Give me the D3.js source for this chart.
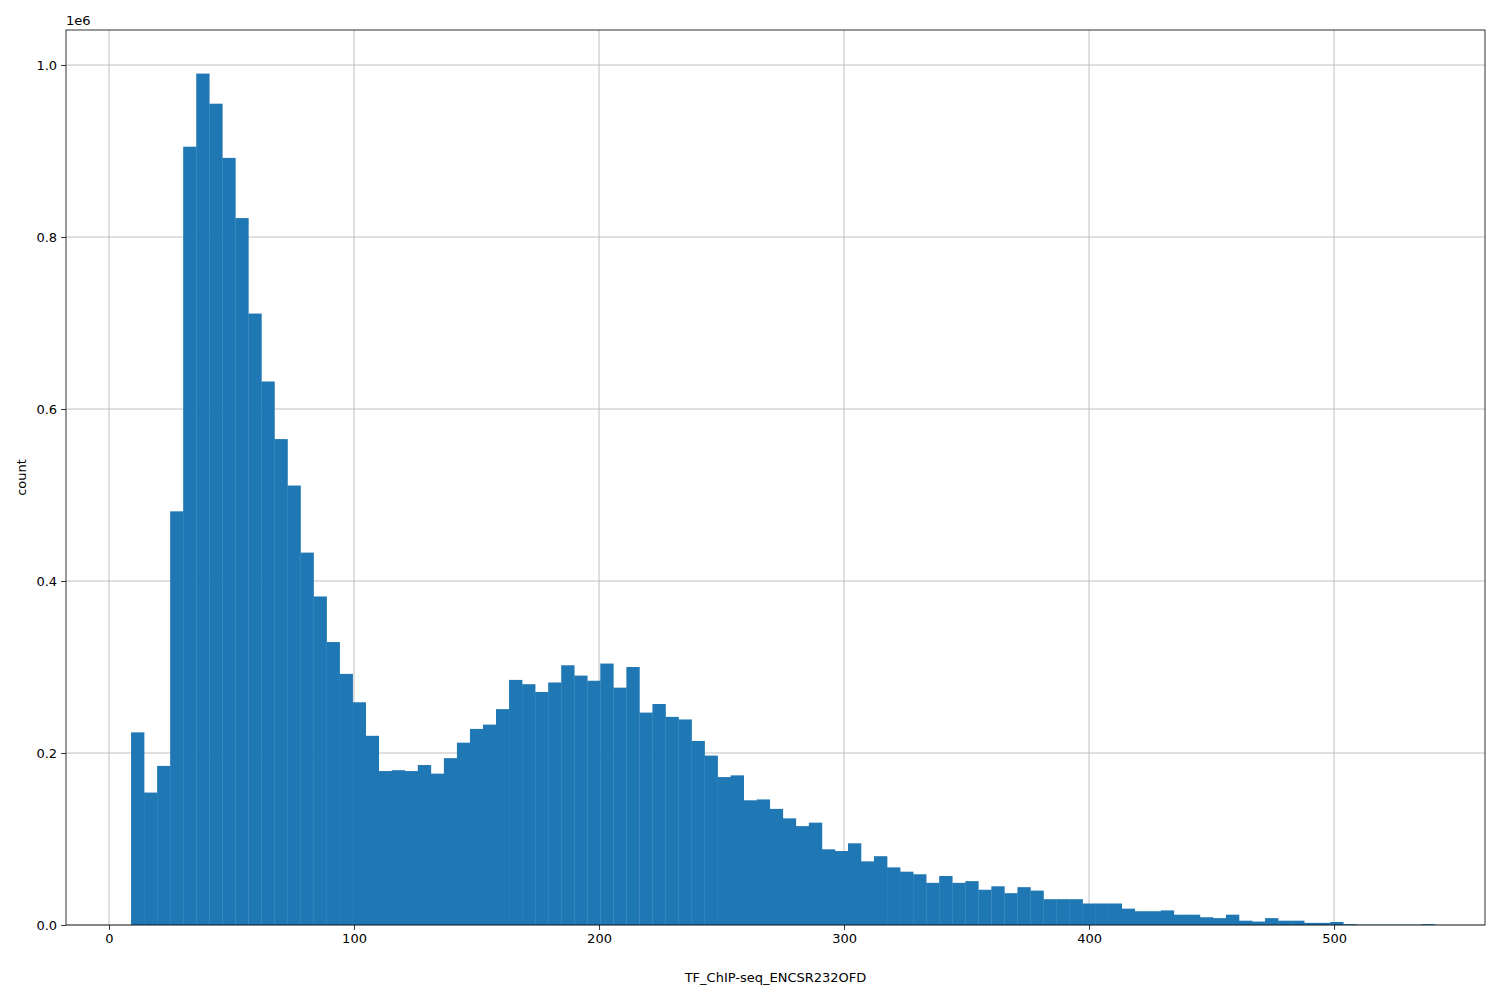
<!DOCTYPE html>
<html>
<head>
<meta charset="utf-8">
<script src="https://cdn.jsdelivr.net/npm/d3@7"></script>
<style>
  body { margin: 0; background: #fff; }
  text { font-family: "DejaVu Sans", sans-serif; }
</style>
</head>
<body>
<svg id="chart" width="1500" height="1000"></svg>
<script>
// histogram bin setup (TF_ChIP-seq_ENCSR232OFD)
const binStart = 9;
const binWidth = 5.32;
// counts per bin, in millions
const counts = [
  0.224, 0.154, 0.185, 0.481, 0.905, 0.990, 0.955, 0.892, 0.822, 0.711,
  0.632, 0.565, 0.511, 0.433, 0.382, 0.329, 0.292, 0.259, 0.220, 0.179,
  0.180, 0.179, 0.186, 0.176, 0.194, 0.212, 0.228, 0.233, 0.251, 0.285,
  0.280, 0.271, 0.282, 0.302, 0.290, 0.284, 0.304, 0.276, 0.300, 0.247,
  0.257, 0.242, 0.239, 0.214, 0.197, 0.172, 0.174, 0.145, 0.146, 0.135,
  0.124, 0.115, 0.119, 0.088, 0.086, 0.095, 0.074, 0.080, 0.067, 0.062,
  0.059, 0.049, 0.057, 0.049, 0.051, 0.041, 0.045, 0.037, 0.044, 0.040,
  0.030, 0.030, 0.030, 0.025, 0.025, 0.025, 0.019, 0.016, 0.016, 0.017,
  0.012, 0.012, 0.009, 0.008, 0.012, 0.005, 0.004, 0.008, 0.005, 0.005,
  0.0025, 0.0025, 0.0035, 0.001, 0.0003, 0.0003, 0.0003, 0.0003, 0.0003, 0.001
];
const xTicks = [0, 100, 200, 300, 400, 500];
const yTicks = [0, 0.2, 0.4, 0.6, 0.8, 1.0];

const svg = d3.select("#chart");
const mLeft = 66, mRight = 1485, mTop = 30, mBottom = 925;

const x = d3.scaleLinear().domain([-17.55, 561.6]).range([mLeft, mRight]);
const y = d3.scaleLinear().domain([0, 1.0407]).range([mBottom, mTop]);

// grid
svg.append("g").selectAll("line").data(xTicks).enter().append("line")
  .attr("x1", d => x(d)).attr("x2", d => x(d))
  .attr("y1", mTop).attr("y2", mBottom)
  .attr("stroke", "#b0b0b0").attr("stroke-width", 0.8);
svg.append("g").selectAll("line").data(yTicks).enter().append("line")
  .attr("x1", mLeft).attr("x2", mRight)
  .attr("y1", d => y(d)).attr("y2", d => y(d))
  .attr("stroke", "#b0b0b0").attr("stroke-width", 0.8);

// bars
svg.append("g").selectAll("rect").data(counts).enter().append("rect")
  .attr("x", (d, i) => x(binStart + i * binWidth))
  .attr("width", (d, i) => x(binStart + (i + 1) * binWidth) - x(binStart + i * binWidth) + 0.3)
  .attr("y", d => y(d))
  .attr("height", d => y(0) - y(d))
  .attr("fill", "#1f77b4");

// axes
const xAxis = svg.append("g").attr("transform", `translate(0,${mBottom})`)
  .call(d3.axisBottom(x).tickValues(xTicks).tickSize(4.9).tickPadding(4).tickFormat(d3.format("d")));
const yAxis = svg.append("g").attr("transform", `translate(${mLeft},0)`)
  .call(d3.axisLeft(y).tickValues(yTicks).tickSize(4.9).tickPadding(4).tickFormat(d3.format(".1f")));
[xAxis, yAxis].forEach(a => {
  a.select(".domain").remove();
  a.selectAll("text").attr("font-size", 13).attr("fill", "#000")
    .attr("font-family", "DejaVu Sans, sans-serif");
  a.selectAll("line").attr("stroke", "#000").attr("stroke-width", 0.8);
});

// frame
svg.append("rect").attr("x", mLeft).attr("y", mTop)
  .attr("width", mRight - mLeft).attr("height", mBottom - mTop)
  .attr("fill", "none").attr("stroke", "#000").attr("stroke-width", 0.8);

svg.append("text").attr("x", mLeft).attr("y", mTop - 5)
  .attr("font-size", 13).text("1e6");
svg.append("text").attr("x", (mLeft + mRight) / 2).attr("y", 982)
  .attr("text-anchor", "middle").attr("font-size", 13).text("TF_ChIP-seq_ENCSR232OFD");
svg.append("text").attr("transform", `translate(26,${(mTop + mBottom) / 2}) rotate(-90)`)
  .attr("text-anchor", "middle").attr("font-size", 13).text("count");
</script>
</body>
</html>
